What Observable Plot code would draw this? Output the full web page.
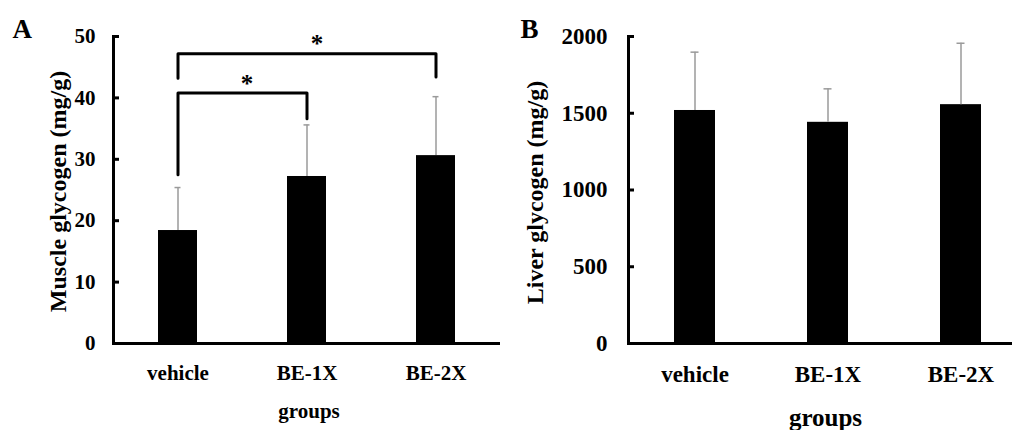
<!DOCTYPE html>
<html>
<head>
<meta charset="utf-8">
<script src="https://cdn.jsdelivr.net/npm/d3@7"></script>
<script src="https://cdn.jsdelivr.net/npm/@observablehq/plot@0.6"></script>
<style>
  html, body { margin: 0; padding: 0; background: #fff; }
  #wrap { position: relative; width: 1012px; height: 430px; overflow: hidden; background: #fff; }
  #a { position: absolute; left: 0; top: 0; }
  #b { position: absolute; left: 500px; top: 0; }
</style>
</head>
<body>
<div id="wrap"><div id="a"></div><div id="b"></div></div>
<script>
// ---- data ----
const groups = ["vehicle", "BE-1X", "BE-2X"];
const muscleMean = [18.4, 27.2, 30.6];
const muscleSD = [7.0, 8.4, 9.6];
const liverMean = [1518, 1441, 1556];
const liverSD = [380, 218, 400];
const muscleTicks = [0, 10, 20, 30, 40, 50];
const liverTicks = [0, 500, 1000, 1500, 2000];
const bracketFrom = ["vehicle", "vehicle"];
const bracketTo = ["BE-1X", "BE-2X"];
const bracketTop = [40.8, 47.2];
const bracketFromEnd = [27.5, 43.2];
const bracketToEnd = [36.6, 43.4];
const bracketStarY = [42.3, 48.7];
const bracketLabel = ["*", "*"];

const FONT = "'Liberation Serif', 'Times New Roman', serif";
const ERR = "#9a9a9a";

const muscle = groups.map((g, i) => ({g, v: muscleMean[i], hi: muscleMean[i] + muscleSD[i]}));
const liver = groups.map((g, i) => ({g, v: liverMean[i], hi: liverMean[i] + liverSD[i]}));
const bracketPts = bracketFrom.flatMap((f, i) => [
  {id: i, x: f, y: bracketFromEnd[i]},
  {id: i, x: f, y: bracketTop[i]},
  {id: i, x: bracketTo[i], y: bracketTop[i]},
  {id: i, x: bracketTo[i], y: bracketToEnd[i]}
]);

function panel({data, ticks, domain, width, marginLeft, xRange, tickFs, tickPad, xFs, xPad,
                ylabel, ylabelDx, ylabelDy, letter, letterDx, groupsFs, groupsDx, groupsDy, extra = []}) {
  return Plot.plot({
    width, height: 430,
    marginLeft, marginRight: 0, marginTop: 36, marginBottom: 87,
    style: {fontFamily: FONT, fontWeight: "bold", color: "#000", background: "#fff", overflow: "visible"},
    x: {domain: groups, paddingInner: 0.695, paddingOuter: 0.3475, ...(xRange ? {range: xRange} : {}), label: null},
    y: {domain, label: null},
    marks: [
      Plot.barY(data, {x: "g", y: "v", fill: "#000"}),
      Plot.ruleX(data, {x: "g", y1: "v", y2: "hi", stroke: ERR, strokeWidth: 1.5}),
      Plot.tickY(data, {x: "g", y: "hi", stroke: ERR, strokeWidth: 1.5, insetLeft: 16.5, insetRight: 16.5}),
      Plot.axisY(ticks, {tickSize: 0, tickPadding: tickPad, fontSize: tickFs, label: null, tickFormat: d => String(d)}),
      Plot.axisY(ticks, {tickSize: 6, dx: 6, fill: "none", strokeWidth: 3, label: null}),
      Plot.axisX({tickSize: 0, tickPadding: xPad, fontSize: xFs, label: null}),
      Plot.frame({anchor: "left", strokeWidth: 3}),
      Plot.ruleY([0], {strokeWidth: 3}),
      Plot.text([ylabel], {text: d => d, frameAnchor: "left", textAnchor: "middle", lineAnchor: "middle",
                           rotate: -90, dx: ylabelDx, dy: ylabelDy, fontSize: 24}),
      Plot.text(["groups"], {text: d => d, frameAnchor: "bottom", textAnchor: "middle", lineAnchor: "middle",
                             dx: groupsDx, dy: groupsDy, fontSize: groupsFs}),
      Plot.text([letter], {text: d => d, frameAnchor: "top-left", textAnchor: "start", lineAnchor: "middle",
                           dx: letterDx, dy: -7, fontSize: 27}),
      ...extra
    ]
  });
}

const starPts = bracketLabel.map((s, i) => ({s, x: bracketTo[i], y: bracketStarY[i]}));

document.getElementById("a").appendChild(panel({
  data: muscle, ticks: muscleTicks, domain: [0, 50], width: 500, marginLeft: 113,
  tickFs: 21, tickPad: 18, xFs: 21, xPad: 22,
  ylabel: "Muscle glycogen (mg/g)", ylabelDx: -55, ylabelDy: 1.5,
  letter: "A", letterDx: -101, groupsFs: 21, groupsDx: 2, groupsDy: 68,
  extra: [
    Plot.line(bracketPts, {x: "x", y: "y", z: "id", stroke: "#000", strokeWidth: 3, curve: "linear"}),
    Plot.text(starPts.slice(0, 1), {x: "x", y: "y", text: "s", dx: -60, fontSize: 25}),
    Plot.text(starPts.slice(1, 2), {x: "x", y: "y", text: "s", dx: -119, fontSize: 25})
  ]
}));

document.getElementById("b").appendChild(panel({
  data: liver, ticks: liverTicks, domain: [0, 2000], width: 512, marginLeft: 128, xRange: [128, 527],
  tickFs: 23, tickPad: 21, xFs: 23, xPad: 22.5,
  ylabel: "Liver glycogen (mg/g)", ylabelDx: -93, ylabelDy: 2.5,
  letter: "B", letterDx: -108, groupsFs: 25, groupsDx: 5, groupsDy: 74
}));
</script>
</body>
</html>
